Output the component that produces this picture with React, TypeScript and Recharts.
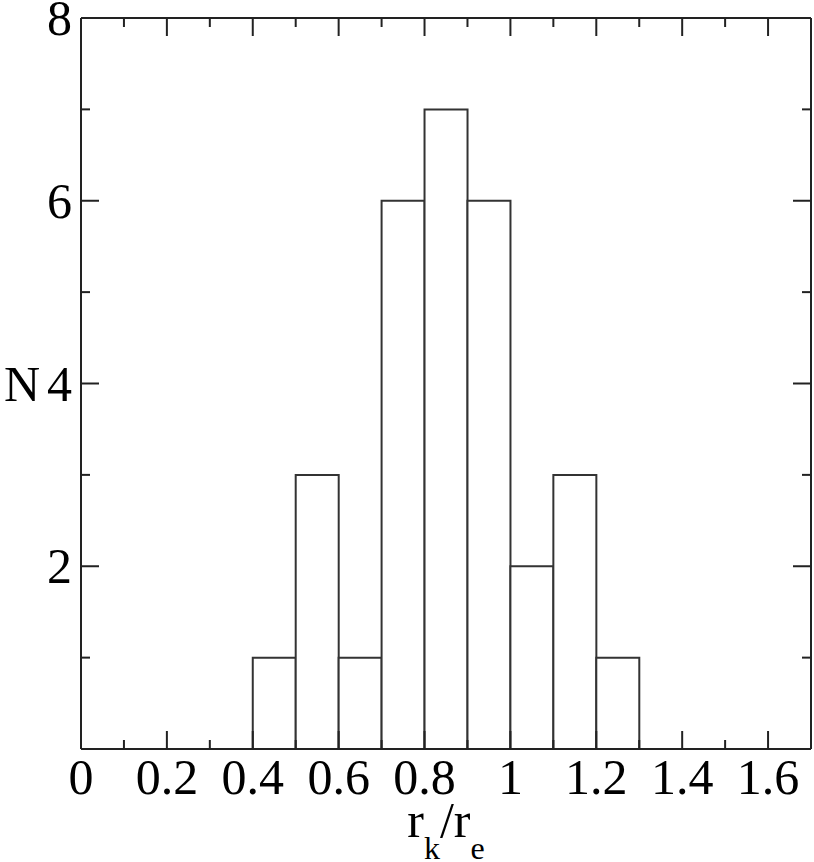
import React from 'react';
import { ComposedChart, Bar, Line, XAxis, YAxis, Label } from 'recharts';

// histogram bin centres (width 0.1) and counts
const binCenters = [0.05, 0.15, 0.25, 0.35, 0.45, 0.55, 0.65, 0.75, 0.85, 0.95, 1.05, 1.15, 1.25, 1.35, 1.45, 1.55, 1.65];
const counts = [null, null, null, null, 1, 3, 1, 6, 7, 6, 2, 3, 1, null, null, null, null];

const xMajor = [0, 0.2, 0.4, 0.6, 0.8, 1, 1.2, 1.4, 1.6];
const xMinor = [0.1, 0.3, 0.5, 0.7, 0.9, 1.1, 1.3, 1.5];
const yMajor = [0, 2, 4, 6, 8];
const yMinor = [1, 3, 5, 7];

const data = binCenters.map((x, i) => ({ x, n: counts[i] }));

const FONT = "'Liberation Serif', 'Times New Roman', Times, serif";
const INK = '#222';
const MAJOR = 18;
const MINOR = 9;
const txt = { fontFamily: FONT, fontSize: 50, fill: '#000' };

const isMajorX = (v: number) => xMajor.some(m => Math.abs(m - v) < 1e-6);
const isMajorY = (v: number) => yMajor.includes(v);

const BottomTick = (props: any) => {
  const { x, y, payload } = props;
  const major = isMajorX(payload.value);
  return (
    <g>
      <line x1={x} y1={y} x2={x} y2={y - (major ? MAJOR : MINOR)} stroke={INK} strokeWidth={2} />
      {major && (
        <text x={x} y={y + 45} textAnchor="middle" style={txt}>
          {String(payload.value)}
        </text>
      )}
    </g>
  );
};

const TopTick = (props: any) => {
  const { x, y, payload } = props;
  const major = isMajorX(payload.value);
  return <line x1={x} y1={y} x2={x} y2={y + (major ? MAJOR : MINOR)} stroke={INK} strokeWidth={2} />;
};

const LeftTick = (props: any) => {
  const { x, y, payload } = props;
  const major = isMajorY(payload.value);
  return (
    <g>
      <line x1={x} y1={y} x2={x + (major ? MAJOR : MINOR)} y2={y} stroke={INK} strokeWidth={2} />
      {major && payload.value !== 0 && (
        <text x={x - 9} y={y + 17} textAnchor="end" style={txt}>
          {payload.value}
        </text>
      )}
    </g>
  );
};

const RightTick = (props: any) => {
  const { x, y, payload } = props;
  const major = isMajorY(payload.value);
  return <line x1={x} y1={y} x2={x - (major ? MAJOR : MINOR)} y2={y} stroke={INK} strokeWidth={2} />;
};

const XTitle = (props: any) => {
  const { x, y, width } = props.viewBox;
  return (
    <text x={x + width / 2} y={y + 88} textAnchor="middle" style={txt}>
      r
      <tspan style={{ fontSize: 32 }} dy={22}>k</tspan>
      <tspan dy={-22}>/r</tspan>
      <tspan style={{ fontSize: 32 }} dy={22}>e</tspan>
    </text>
  );
};

const YTitle = (props: any) => {
  const { x, y, height } = props.viewBox;
  return (
    <text x={x + 22} y={y + height / 2 + 17} textAnchor="middle" style={txt}>
      N
    </text>
  );
};

const xTicks = [...xMajor, ...xMinor];
const yTicks = [...yMajor, ...yMinor];

export default function App() {
  return (
    <div style={{ position: 'absolute', left: 0, top: 0, background: '#fff' }}>
      <ComposedChart width={814} height={862} data={data} barCategoryGap={0} barGap={0}
        margin={{ top: 17, right: 2, left: 0, bottom: 0 }}>
        <XAxis dataKey="x" type="number" domain={[0, 1.7]} allowDataOverflow
          ticks={xTicks} interval={0} height={113}
          tickSize={0} tickMargin={0} tickLine={false} tick={<BottomTick />}
          axisLine={{ stroke: INK, strokeWidth: 2 }}>
          <Label content={<XTitle />} />
        </XAxis>
        <XAxis xAxisId="top" orientation="top" dataKey="x" type="number" domain={[0, 1.7]} allowDataOverflow
          ticks={xTicks} interval={0} height={1}
          tickSize={0} tickMargin={0} tickLine={false} tick={<TopTick />}
          axisLine={{ stroke: INK, strokeWidth: 2 }} />
        <YAxis domain={[0, 8]} allowDataOverflow ticks={yTicks} interval={0}
          width={81} tickSize={0} tickMargin={0} tickLine={false} tick={<LeftTick />}
          axisLine={{ stroke: INK, strokeWidth: 2 }}>
          <Label content={<YTitle />} />
        </YAxis>
        <YAxis yAxisId="r" orientation="right" domain={[0, 8]} allowDataOverflow
          ticks={yTicks} interval={0} width={1}
          tickSize={0} tickMargin={0} tickLine={false} tick={<RightTick />}
          axisLine={{ stroke: INK, strokeWidth: 2 }} />
        <Bar dataKey="n" fill="#fff" stroke="#333" strokeWidth={2} isAnimationActive={false} />
        {/* invisible series so the mirrored top/right axes get a scale */}
        <Line xAxisId="top" yAxisId="r" dataKey="n" stroke="none" dot={false} activeDot={false}
          legendType="none" isAnimationActive={false} />
      </ComposedChart>
    </div>
  );
}
